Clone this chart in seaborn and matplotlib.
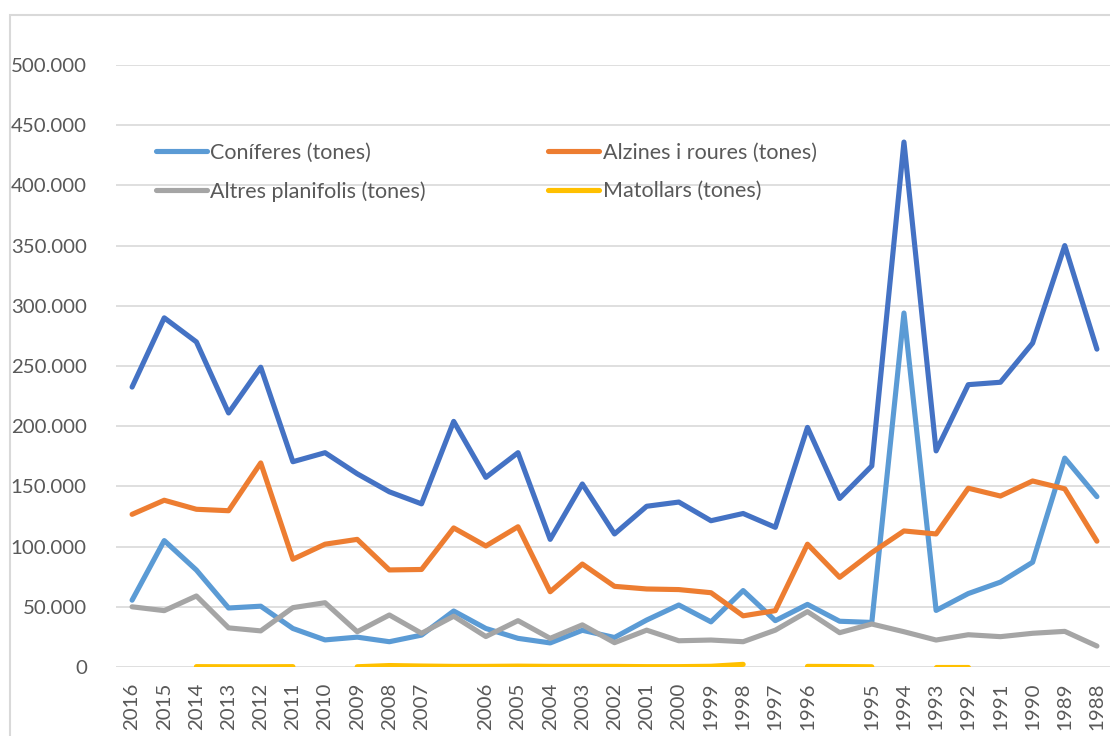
import numpy as np
import pandas as pd
import matplotlib.pyplot as plt
import seaborn as sns
from matplotlib.lines import Line2D
from matplotlib.patches import Rectangle
from matplotlib.ticker import FuncFormatter, MultipleLocator

# categories (two unlabeled slots, as in the source sheet)
years = ['2016', '2015', '2014', '2013', '2012', '2011', '2010', '2009', '2008', '2007', '',
         '2006', '2005', '2004', '2003', '2002', '2001', '2000', '1999', '1998', '1997', '1996', '',
         '1995', '1994', '1993', '1992', '1991', '1990', '1989', '1988']

total = [232500, 290000, 270000, 211000, 249000, 170500, 178000, 160500, 145500, 135500, 204000,
         157500, 178000, 106000, 152000, 110500, 133500, 137000, 121500, 127500, 116000, 199000, 140000,
         167000, 436000, 179500, 234500, 236500, 269000, 350000, 264000]
coniferes = [55500, 105000, 80500, 49000, 50500, 32000, 22500, 24800, 21000, 26500, 46500,
             32000, 23800, 20000, 30500, 24500, 39000, 51500, 37500, 63500, 38500, 52000, 38000,
             37000, 294000, 47000, 61000, 70500, 87000, 173500, 141500]
alzines = [126800, 138500, 131000, 129800, 169500, 89500, 102000, 106000, 80600, 81000, 115500,
           100500, 116500, 62500, 85500, 67000, 64800, 64300, 61700, 42500, 46800, 102000, 74500,
           95000, 113000, 110500, 148500, 142000, 154500, 148000, 104500]
altres = [50000, 46800, 59000, 32500, 30000, 49300, 53400, 29300, 43200, 28000, 42200,
          25300, 38500, 23800, 35000, 20200, 30600, 21800, 22400, 21000, 30600, 46000, 28500,
          35700, 29300, 22400, 26800, 25200, 28000, 29600, 17400]
matollars = [None, None, 300, 200, 200, 300, None, 200, 1200, 800, 500,
             500, 700, 500, 500, 500, 300, 300, 600, 2200, None, 500, 400,
             200, None, 200, 200, None, None, None, None]

series = [
    ('Total', total, '#4472C4'),
    ('Coníferes (tones)', coniferes, '#5B9BD5'),
    ('Alzines i roures (tones)', alzines, '#ED7D31'),
    ('Altres planifolis (tones)', altres, '#A5A5A5'),
    ('Matollars (tones)', matollars, '#FFC000'),
]


def split_runs(values):
    # keep gaps where the sheet has no value
    s = pd.Series(values, dtype=float)
    return pd.DataFrame({'pos': np.arange(len(s)), 'value': s, 'run': s.isna().cumsum()}).dropna()


sns.set_style('white')
plt.rcParams['font.family'] = ['Lato', 'DejaVu Sans']

fig = plt.figure(figsize=(11.1, 7.36), dpi=100)
ax = fig.add_axes([116 / 1110, 69 / 736, 997 / 1110, 602 / 736])

line_kw = dict(linewidth=3.7, solid_capstyle='round', solid_joinstyle='round')
handles = {}
for name, values, color in series:
    sns.lineplot(data=split_runs(values), x='pos', y='value', units='run', estimator=None,
                 color=color, ax=ax, **line_kw)
    handles[name] = Line2D([], [], color=color, **line_kw)

ax.set_xlim(-0.5, len(years) - 0.5)
ax.set_ylim(0, 500000)
ax.set_xticks(range(len(years)))
ax.set_xticklabels(years, rotation=90, va='top')
ax.yaxis.set_major_locator(MultipleLocator(50000))
ax.yaxis.set_major_formatter(FuncFormatter(lambda v, p: f'{int(v):,}'.replace(',', '.')))
ax.set_xlabel('')
ax.set_ylabel('')
ax.tick_params(axis='both', length=0, labelsize=14.7, labelcolor='#595959')
ax.tick_params(axis='y', pad=21)
ax.tick_params(axis='x', pad=11)
ax.grid(axis='y', color='#D9D9D9', linewidth=1.2)
ax.set_axisbelow(True)
for sp in ax.spines.values():
    sp.set_visible(False)

order = ['Coníferes (tones)', 'Altres planifolis (tones)', 'Alzines i roures (tones)', 'Matollars (tones)']
leg = ax.legend([handles[n] for n in order], order, ncol=2, loc='upper left',
                bbox_to_anchor=(156 / 1110, 1 - 143 / 736), bbox_transform=fig.transFigure,
                frameon=False, fontsize=15.5, handlelength=2.35, handletextpad=0.18,
                columnspacing=5.67, labelspacing=0.84, borderpad=0, borderaxespad=0)
for t in leg.get_texts():
    t.set_color('#595959')

fig.add_artist(Rectangle((10 / 1110, -0.1), 1.2, 0.1 + 721 / 736, transform=fig.transFigure,
                         fill=False, edgecolor='#D9D9D9', linewidth=1.5))

fig.savefig('out.png', dpi=100)
